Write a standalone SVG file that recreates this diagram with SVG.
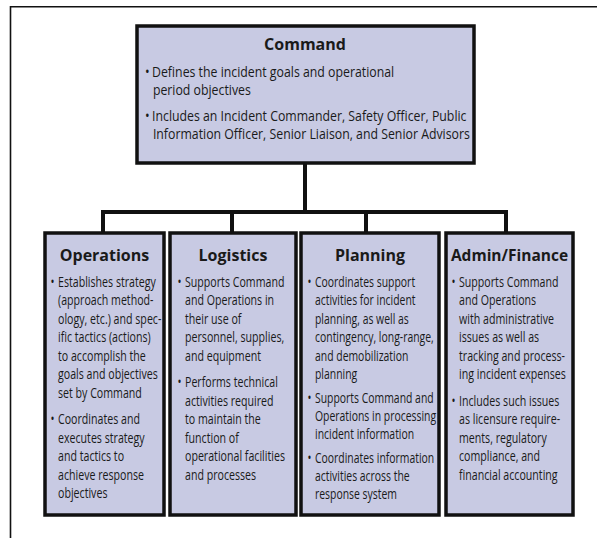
<svg xmlns="http://www.w3.org/2000/svg" width="597" height="538" viewBox="0 0 597 538">
<style>
.frame{stroke:#111;stroke-width:1.6;fill:none}
.box{fill:#c8cae3;stroke:#111;stroke-width:3.5}
.conn{stroke:#111;stroke-width:4;fill:none;stroke-linecap:square}
.title{font-family:"Open Sans","Liberation Sans",sans-serif;font-weight:bold;font-size:16px;fill:#1a1a1a;text-anchor:middle}
.body{font-family:"Open Sans","Liberation Sans",sans-serif;font-size:14px;fill:#1a1a1a}
</style>
<rect width="597" height="538" fill="#fff"/>
<path class="frame" d="M10.5,538 V6.8 H597"/>
<g id="connectors">
<path class="conn" d="M305,163 V212 M103,212 H506 M103,212 V233 M232,212 V233 M366,212 V233 M506,212 V233"/>
</g>
<g id="command">
<rect class="box" x="137" y="26" width="337" height="137"/>
<text class="title" x="305" y="50">Command</text>
<g class="body" transform="translate(152 0) scale(0.88 1)">
<text x="-8" y="77">•</text>
<text x="0" y="77">Defines the incident goals and operational</text>
<text x="1" y="95">period objectives</text>
<text x="-8" y="121">•</text>
<text x="0" y="121">Includes an Incident Commander, Safety Officer,  Public</text>
<text x="1" y="139">Information Officer, Senior Liaison, and Senior Advisors</text>
</g>
</g>
<g id="operations">
<rect class="box" x="45" y="233" width="119" height="282"/>
<text class="title" x="104.5" y="261">Operations</text>
<g class="body" transform="translate(58 0) scale(0.76 1)">
<text x="-10" y="287">•</text>
<text x="0" y="287">Establishes strategy</text>
<text x="0" y="305.5">(approach method-</text>
<text x="0" y="324">ology, etc.) and spec-</text>
<text x="0" y="342.5">ific tactics (actions)</text>
<text x="0" y="361">to accomplish the</text>
<text x="0" y="379.5">goals and objectives</text>
<text x="0" y="398">set by Command</text>
<text x="-10" y="424.5">•</text>
<text x="0" y="424.5">Coordinates and</text>
<text x="0" y="443">executes strategy</text>
<text x="0" y="461.5">and tactics to</text>
<text x="0" y="480">achieve response</text>
<text x="0" y="498.5">objectives</text>
</g>
</g>
<g id="logistics">
<rect class="box" x="170" y="233" width="126" height="282"/>
<text class="title" x="233" y="261">Logistics</text>
<g class="body" transform="translate(185 0) scale(0.76 1)">
<text x="-10" y="287">•</text>
<text x="0" y="287">Supports Command</text>
<text x="0" y="305.5">and Operations in</text>
<text x="0" y="324">their use of</text>
<text x="0" y="342.5">personnel, supplies,</text>
<text x="0" y="361">and equipment</text>
<text x="-10" y="387.5">•</text>
<text x="0" y="387.5">Performs technical</text>
<text x="0" y="406">activities required</text>
<text x="0" y="424.5">to maintain the</text>
<text x="0" y="443">function of</text>
<text x="0" y="461.5">operational facilities</text>
<text x="0" y="480">and processes</text>
</g>
</g>
<g id="planning">
<rect class="box" x="301" y="233" width="138" height="282"/>
<text class="title" x="370" y="261">Planning</text>
<g class="body" transform="translate(315 0) scale(0.745 1)">
<text x="-10" y="287">•</text>
<text x="0" y="287">Coordinates support</text>
<text x="0" y="305.5">activities for incident</text>
<text x="0" y="324">planning, as well as</text>
<text x="0" y="342.5">contingency, long-range,</text>
<text x="0" y="361">and demobilization</text>
<text x="0" y="379.5">planning</text>
<text x="-10" y="403">•</text>
<text x="0" y="403">Supports Command and</text>
<text x="0" y="421">Operations in processing</text>
<text x="0" y="439">incident information</text>
<text x="-10" y="463">•</text>
<text x="0" y="463">Coordinates information</text>
<text x="0" y="481">activities across the</text>
<text x="0" y="499">response system</text>
</g>
</g>
<g id="admin-finance">
<rect class="box" x="446" y="233" width="127" height="282"/>
<text class="title" x="509.5" y="261" style="font-size:15.5px">Admin/Finance</text>
<g class="body" transform="translate(459 0) scale(0.76 1)">
<text x="-10" y="287">•</text>
<text x="0" y="287">Supports Command</text>
<text x="0" y="305.5">and Operations</text>
<text x="0" y="324">with administrative</text>
<text x="0" y="342.5">issues as well as</text>
<text x="0" y="361">tracking and process-</text>
<text x="0" y="379.5">ing incident expenses</text>
<text x="-10" y="406">•</text>
<text x="0" y="406">Includes such issues</text>
<text x="0" y="424.5">as licensure require-</text>
<text x="0" y="443">ments, regulatory</text>
<text x="0" y="461.5">compliance, and</text>
<text x="0" y="480">financial accounting</text>
</g>
</g>
</svg>
